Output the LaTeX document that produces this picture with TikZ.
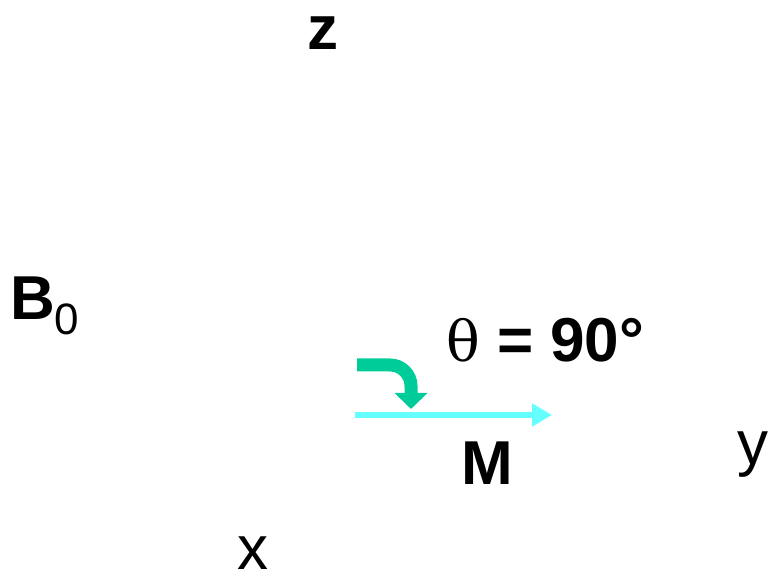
\documentclass[tikz,border=0pt]{standalone}
\usepackage{fontspec}
\setmainfont{Liberation Sans}
\usetikzlibrary{arrows.meta}
\definecolor{mgreen}{HTML}{00CC99}
\definecolor{mcyan}{HTML}{66FFFF}
\tikzset{
  lbl/.style={inner sep=0pt, font=\fontsize{62}{70}\selectfont},
  blbl/.style={lbl, font=\fontsize{62}{70}\selectfont\bfseries},
}
\begin{document}
\begin{tikzpicture}[x=1pt,y=1pt]
\useasboundingbox (0,0) rectangle (769,578);
\node[blbl, anchor=base] (z) at (323,528) {z};
\node[blbl, anchor=base west] (b0) at (10,258) {B\raisebox{-15pt}{\fontsize{44}{50}\selectfont\mdseries 0}};
\node[blbl, anchor=base west] (theta) at (446,216) {{\mdseries\fontspec{DejaVu Serif}\fontsize{56}{60}\selectfont θ} = 90°};
\node[blbl, anchor=base] (m) at (487,93) {M};
\node[lbl, anchor=base west] (y) at (737,113) {y};
\node[lbl, anchor=base] (x) at (253,8) {x};
\coordinate (m0) at (355,163);
\coordinate (m1) at (552,163);
\coordinate (g0) at (357,213);
\coordinate (g1) at (411,169);
\draw[mcyan, line width=6pt, -{Triangle[width=22pt,length=20pt]}] (m0) -- (m1);
\draw[mgreen, line width=13pt, -{Triangle[width=32pt,length=16pt]}]
  (g0) -- (390,213) arc[start angle=90, end angle=0, radius=21] -- (g1);
\end{tikzpicture}
\end{document}
